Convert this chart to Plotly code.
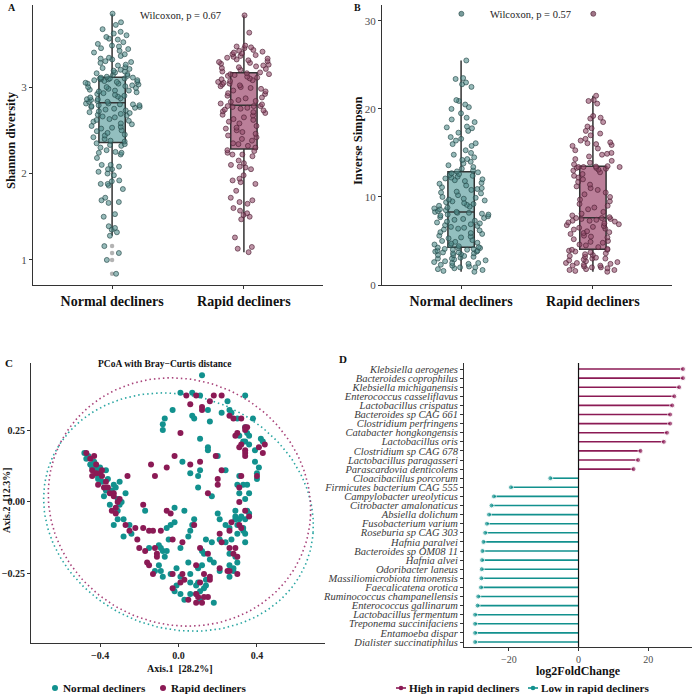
import numpy as np
import plotly.graph_objects as go

FONT = "Liberation Serif"
TEAL = "#12918E"
MAG = "#8B1A55"
AXC = "#333333"
TXT = "#4D4D4D"

groups = ["Normal decliners", "Rapid decliners"]

# ---------------- Panel A: Shannon diversity ----------------
shannon_normal = [
    0.84, 1.00, 1.08, 1.16, 1.28, 1.32, 1.35, 1.37, 1.39, 1.50, 1.53, 1.66, 1.67, 1.69, 1.72, 1.82, 1.86, 1.88, 1.88, 1.91,
    1.92, 1.98, 2.00, 2.02, 2.05, 2.05, 2.08, 2.10, 2.10, 2.18, 2.22, 2.24, 2.24, 2.25, 2.27, 2.30, 2.32, 2.33, 2.34, 2.35,
    2.37, 2.38, 2.40, 2.42, 2.44, 2.45, 2.47, 2.49, 2.50, 2.52, 2.53, 2.54, 2.55, 2.57, 2.58, 2.60, 2.61, 2.62, 2.63, 2.65,
    2.66, 2.67, 2.68, 2.69, 2.70, 2.71, 2.72, 2.73, 2.74, 2.75, 2.76, 2.77, 2.77, 2.78, 2.79, 2.79, 2.80, 2.80, 2.81, 2.81,
    2.83, 2.83, 2.84, 2.85, 2.86, 2.86, 2.87, 2.88, 2.89, 2.90, 2.91, 2.92, 2.93, 2.94, 2.95, 2.96, 2.96, 2.97, 2.98, 2.99,
    3.00, 3.00, 3.01, 3.02, 3.03, 3.04, 3.04, 3.05, 3.06, 3.06, 3.07, 3.08, 3.08, 3.09, 3.09, 3.10, 3.10, 3.10, 3.11, 3.11,
    3.12, 3.13, 3.14, 3.15, 3.16, 3.17, 3.18, 3.19, 3.20, 3.21, 3.22, 3.23, 3.25, 3.26, 3.28, 3.29, 3.30, 3.32, 3.33, 3.34,
    3.36, 3.38, 3.40, 3.42, 3.44, 3.45, 3.47, 3.48, 3.50, 3.52, 3.55, 3.56, 3.58, 3.60, 3.62, 3.64, 3.67, 3.72, 3.75, 3.85,
]
shannon_rapid = [
    1.09, 1.13, 1.15, 1.26, 1.47, 1.50, 1.52, 1.54, 1.57, 1.60, 1.65, 1.67, 1.69, 1.72, 1.80, 1.88, 1.90, 1.92, 1.94, 1.98,
    2.05, 2.07, 2.08, 2.10, 2.12, 2.15, 2.20, 2.22, 2.22, 2.24, 2.26, 2.27,
    2.30, 2.32, 2.34, 2.35, 2.38, 2.40, 2.42, 2.44, 2.46, 2.48, 2.50, 2.52, 2.53, 2.55, 2.58, 2.60, 2.62, 2.63, 2.65, 2.67,
    2.68, 2.70, 2.71, 2.72, 2.73, 2.74, 2.75, 2.76, 2.77, 2.78, 2.78, 2.78,
    2.80, 2.81, 2.83, 2.84, 2.85, 2.87, 2.88, 2.90, 2.92, 2.93, 2.95, 2.96, 2.98, 2.99, 3.00, 3.01, 3.02, 3.03, 3.04, 3.05,
    3.06, 3.07, 3.08, 3.09, 3.10, 3.11, 3.12, 3.13, 3.14, 3.15, 3.15, 3.16,
    3.17, 3.18, 3.20, 3.21, 3.22, 3.23, 3.24, 3.25, 3.26, 3.27, 3.28, 3.29, 3.30, 3.31, 3.32, 3.33, 3.34, 3.35, 3.36, 3.37,
    3.38, 3.39, 3.40, 3.41, 3.42, 3.43, 3.45, 3.46, 3.47, 3.48, 3.63, 3.83,
]
p_shannon = "Wilcoxon, p = 0.67"

# ---------------- Panel B: Inverse Simpson ----------------
invsimpson_normal = [
    1.5, 1.6, 1.7, 1.8, 1.9, 2.0, 2.0, 2.1, 2.2, 2.3, 2.4, 2.5, 2.5, 2.6, 2.7, 2.8, 2.9, 3.0, 3.0, 3.1,
    3.2, 3.3, 3.4, 3.4, 3.5, 3.6, 3.6, 3.7, 3.7, 3.8, 3.8, 3.9, 3.9, 4.0, 4.0, 4.1, 4.1, 4.2, 4.2, 4.25,
    4.3, 4.4, 4.5, 4.6, 4.7, 4.8, 4.9, 5.0, 5.1, 5.3, 5.4, 5.5, 5.6, 5.8, 5.9, 6.0, 6.2, 6.3, 6.4, 6.5,
    6.6, 6.7, 6.8, 6.9, 7.0, 7.1, 7.2, 7.3, 7.4, 7.5, 7.6, 7.7, 7.8, 7.9, 8.0, 8.0, 8.1, 8.2, 8.2, 8.3,
    8.3, 8.4, 8.5, 8.6, 8.7, 8.8, 8.9, 9.0, 9.1, 9.2, 9.3, 9.4, 9.5, 9.6, 9.7, 9.8, 9.9, 10.0, 10.2, 10.4,
    10.5, 10.6, 10.8, 10.9, 11.0, 11.1, 11.3, 11.5, 11.6, 11.8, 11.9, 12.0, 12.1, 12.2, 12.3, 12.4, 12.5, 12.6, 12.7, 12.8,
    12.9, 13.0, 13.2, 13.4, 13.6, 13.8, 14.0, 14.2, 14.3, 14.5, 15.0, 15.3, 15.8, 16.0, 16.1, 16.4, 16.6, 17.3, 17.5, 17.8,
    17.9, 18.0, 18.5, 18.8, 19.0, 20.0, 20.2, 20.9, 21.0, 22.5, 22.8, 23.0, 23.4, 23.5, 20.5, 19.5, 16.8, 14.8, 25.5, 30.8,
]
invsimpson_rapid = [
    1.5, 1.6, 1.7, 1.7, 1.8, 1.9, 2.0, 2.0, 2.1, 2.2, 2.2, 2.3, 2.4, 2.5, 2.5, 2.6, 2.7, 2.8, 2.9, 3.0,
    3.0, 3.1, 3.2, 3.3, 3.4, 3.5, 3.6, 3.7, 3.8, 3.9, 4.0, 4.0,
    4.1, 4.3, 4.5, 4.6, 4.8, 4.9, 5.0, 5.2, 5.4, 5.5, 5.6, 5.8, 5.9, 6.0, 6.1, 6.3, 6.4, 6.5, 6.6, 6.7,
    6.8, 6.9, 7.0, 7.1, 7.2, 7.3, 7.3, 7.4, 7.5, 7.5, 7.6, 7.6,
    7.7, 7.9, 8.1, 8.3, 8.6, 8.8, 9.0, 9.2, 9.5, 9.7, 10.0, 10.3, 10.5, 10.8, 11.0, 11.2, 11.4, 11.7, 12.0, 12.2,
    12.4, 12.6, 12.8, 13.0, 13.1, 13.2, 13.3, 13.3, 13.4, 13.4, 13.4, 13.45,
    13.5, 13.7, 13.9, 14.1, 14.3, 14.6, 14.8, 15.0, 15.3, 15.5, 15.8, 16.0, 16.2, 16.4, 16.6, 17.0, 17.5, 17.8, 18.0, 18.5,
    18.9, 19.0, 19.2, 20.6, 20.9, 21.0, 21.5, 14.9, 15.9, 16.1, 17.2, 30.8,
]
p_invsimpson = "Wilcoxon, p = 0.57"

# ---------------- Panel C: PCoA (Axis.1, Axis.2) ----------------
pcoa_normal = [
    (0.12, 0.44), (0.01, 0.38), (0.07, 0.38), (0.11, 0.37), (0.25, 0.35), (0.34, 0.37), (0.15, 0.32), (0.07, 0.30),
    (0.08, 0.29), (-0.03, 0.32), (-0.07, 0.29), (-0.08, 0.27), (-0.08, 0.25), (0.16, 0.28), (0.22, 0.31), (0.26, 0.32),
    (0.27, 0.31), (0.30, 0.29), (0.38, 0.29), (0.34, 0.26), (0.31, 0.23), (0.35, 0.24), (0.36, 0.23), (0.33, 0.21),
    (0.34, 0.21), (0.36, 0.20), (0.42, 0.22), (0.43, 0.21), (0.39, 0.18), (0.39, 0.14), (0.41, 0.12), (0.40, 0.10),
    (0.40, 0.08), (0.11, 0.22), (0.15, 0.19), (0.15, 0.18), (0.02, 0.14), (0.06, 0.10), (0.20, 0.16), (0.24, 0.11),
    (0.31, 0.09), (0.30, 0.06), (0.33, 0.06), (0.35, 0.06), (0.36, 0.03), (0.31, 0.03), (0.34, 0.01), (0.35, -0.03),
    (0.36, -0.04), (0.34, -0.06), (0.32, -0.05), (0.31, -0.06), (0.30, -0.08), (0.33, -0.10), (0.34, -0.11), (0.34, -0.14),
    (0.10, 0.05), (0.17, 0.02), (0.11, 0.11), (0.10, 0.09),
    (-0.48, 0.17), (-0.47, 0.15), (-0.46, 0.16), (-0.45, 0.13), (-0.44, 0.12), (-0.42, 0.12), (-0.41, 0.11), (-0.41, 0.09),
    (-0.41, 0.08), (-0.37, 0.11), (-0.39, 0.07), (-0.37, 0.04), (-0.38, 0.02), (-0.33, 0.06), (-0.32, 0.05), (-0.31, 0.01),
    (-0.30, -0.01), (-0.35, -0.01), (-0.31, -0.03), (-0.29, 0.00), (-0.27, 0.03), (-0.30, 0.07), (-0.33, -0.08), (-0.31, -0.06),
    (-0.28, -0.06), (-0.25, -0.08), (-0.28, -0.12), (-0.24, -0.11), (-0.17, -0.03), (-0.06, -0.09), (-0.04, -0.08), (-0.02, -0.07),
    (-0.02, -0.02), (0.03, -0.03), (0.01, -0.16), (-0.05, -0.13), (-0.10, -0.15), (-0.15, -0.16), (-0.09, -0.16), (-0.08, -0.17),
    (-0.07, -0.19), (-0.06, -0.17), (-0.12, -0.24), (-0.10, -0.22), (-0.09, -0.24), (-0.08, -0.26), (-0.04, -0.25), (-0.01, -0.23),
    (0.01, -0.26), (0.05, -0.21), (0.06, -0.25), (0.10, -0.23), (0.12, -0.22), (0.16, -0.20), (0.18, -0.21), (0.13, -0.18),
    (0.05, -0.12), (0.06, -0.10), (0.07, -0.08), (0.08, -0.06),
    (-0.01, -0.29), (-0.02, -0.31), (0.01, -0.32), (0.06, -0.28), (0.09, -0.29), (0.10, -0.28), (0.09, -0.32), (0.06, -0.32),
    (0.03, -0.34), (0.11, -0.34), (0.14, -0.29), (0.18, -0.35), (0.14, -0.27), (0.13, -0.30), (0.11, -0.31),
    (0.21, -0.06), (0.24, -0.14), (0.27, -0.13), (0.26, -0.18), (0.29, -0.19), (0.30, -0.21), (0.28, -0.23), (0.26, -0.22),
    (0.21, -0.24), (0.26, -0.26), (0.28, -0.24), (0.30, -0.11), (0.24, -0.08), (0.26, -0.09), (0.29, -0.06), (0.33, -0.09),
    (0.29, -0.05), (0.29, -0.03), (0.20, -0.04), (0.17, -0.14), (0.21, -0.13), (0.14, -0.13), (0.12, -0.17),
    (-0.43, 0.14), (-0.40, 0.12), (-0.36, 0.08), (-0.34, 0.04),
]
pcoa_rapid = [
    (0.04, 0.37), (0.09, 0.37), (0.18, 0.37), (0.22, 0.37), (0.06, 0.34), (0.12, 0.33), (0.16, 0.35), (0.12, 0.32),
    (0.01, 0.24), (0.26, 0.30), (0.28, 0.29), (0.32, 0.29), (0.34, 0.26), (0.35, 0.26), (0.30, 0.24), (0.29, 0.23),
    (0.34, 0.25), (0.32, 0.20), (0.31, 0.19), (0.44, 0.20), (0.43, 0.17), (0.41, 0.19), (0.34, 0.18), (0.34, 0.17),
    (0.34, 0.16), (0.40, 0.09), (0.11, 0.14), (0.06, 0.13), (-0.02, 0.16), (-0.06, 0.12), (-0.12, 0.09), (-0.14, 0.13),
    (0.19, 0.16), (0.22, 0.11), (0.32, 0.09), (0.31, 0.05), (0.31, 0.00), (0.34, -0.03), (0.36, -0.05), (0.31, -0.08),
    (0.32, -0.09), (0.15, 0.03), (0.20, 0.06), (0.20, 0.08),
    (-0.47, 0.17), (-0.43, 0.16), (-0.44, 0.11), (-0.42, 0.10), (-0.40, 0.10), (-0.39, 0.09), (-0.41, 0.06), (-0.38, 0.05),
    (-0.35, 0.03), (-0.33, 0.03), (-0.33, 0.02), (-0.30, 0.01), (-0.32, -0.02), (-0.34, -0.03), (-0.32, -0.04), (-0.26, 0.09),
    (-0.27, -0.08), (-0.22, -0.09), (-0.25, -0.10), (-0.18, -0.09), (-0.21, -0.13), (-0.18, -0.01), (-0.15, -0.10), (-0.13, -0.10),
    (-0.09, -0.10), (-0.04, -0.04), (-0.06, -0.03), (-0.03, -0.13), (0.02, -0.14), (-0.20, -0.16), (-0.17, -0.17), (-0.12, -0.16),
    (-0.11, -0.18), (-0.11, -0.19), (-0.16, -0.21), (-0.15, -0.22), (-0.13, -0.25), (-0.03, -0.25), (0.02, -0.25), (0.09, -0.22),
    (0.13, -0.25), (0.15, -0.18), (0.08, -0.08),
    (-0.03, -0.30), (0.01, -0.28), (0.03, -0.27), (0.11, -0.28), (0.09, -0.32), (0.05, -0.34), (0.09, -0.35), (0.12, -0.35),
    (0.10, -0.33), (0.15, -0.33), (0.16, -0.27), (0.13, -0.33), (0.16, -0.26),
    (0.21, -0.11), (0.22, -0.14), (0.26, -0.16), (0.28, -0.18), (0.30, -0.19), (0.30, -0.25), (0.25, -0.24), (0.21, -0.23),
    (0.26, -0.24), (0.29, -0.16), (0.26, -0.10), (0.27, -0.07), (0.11, -0.16),
    (-0.45, 0.15), (-0.42, 0.13), (-0.39, 0.11), (-0.37, 0.07), (-0.36, 0.05), (-0.44, 0.09), (-0.31, 0.00),
]
# 95% ellipse summaries: centre x, centre y, semi-axis x, semi-axis y, rotation (deg)
ellipse_normal = [0.0, -0.035, 0.69, 0.41, -6]
ellipse_rapid = [0.005, 0.0, 0.67, 0.43, -4]

# ---------------- Panel D: log2FoldChange ----------------
species = [
    "Klebsiella aerogenes", "Bacteroides coprophilus", "Klebsiella michiganensis", "Enterococcus casseliflavus",
    "Lactobacillus crispatus", "Bacteroides sp CAG 661", "Clostridium perfringens", "Catabacter hongkongensis",
    "Lactobacillus oris", "Clostridium sp CAG 678", "Lactobacillus paragasseri", "Parascardovia denticolens",
    "Cloacibacillus porcorum", "Firmicutes bacterium CAG 555", "Campylobacter ureolyticus", "Citrobacter amalonaticus",
    "Absiella dolichum", "Fusobacterium varium", "Roseburia sp CAG 303", "Hafnia paralvei", "Bacteroides sp OM08 11",
    "Hafnia alvei", "Odoribacter laneus", "Massiliomicrobiota timonensis", "Faecalicatena orotica",
    "Ruminococcus champanellensis", "Enterococcus gallinarum", "Lactobacillus fermentum", "Treponema succinifaciens",
    "Entamoeba dispar", "Dialister succinatiphilus",
]
log2fc = [
    30.0, 30.0, 28.9, 27.5, 26.9, 26.3, 26.3, 25.4, 24.5, 17.8, 17.1, 15.8,
    -8.1, -19.4, -24.3, -25.0, -25.7, -26.3, -26.8, -27.3, -27.6, -27.7, -27.8, -27.9, -28.0,
    -28.8, -29.0, -29.7, -29.7, -29.7, -29.7,
]
legend_d = ["High in rapid decliners", "Low in rapid decliners"]

fig = go.Figure()

# ---- boxplots A and B ----
box_styles = {
    "Normal decliners": dict(fill="rgba(120,175,175,0.8)", pt="rgba(80,140,138,0.6)", ptl="rgba(35,70,70,0.8)"),
    "Rapid decliners": dict(fill="rgba(170,95,128,0.8)", pt="rgba(145,75,105,0.6)", ptl="rgba(75,30,50,0.8)"),
}

def add_box(values, grp, xa, ya):
    st = box_styles[grp]
    # box with 1.5*IQR whiskers; outliers drawn grey at the centre (as ggplot does)
    fig.add_trace(go.Box(x=[grp] * len(values), y=values, xaxis=xa, yaxis=ya, boxpoints="outliers",
                         jitter=0, pointpos=0, width=0.2, fillcolor=st["fill"],
                         line=dict(color=AXC, width=1.5),
                         marker=dict(size=4.5, color="rgba(160,160,160,0.8)", line=dict(width=0)),
                         whiskerwidth=0, showlegend=False, hoverinfo="skip"))
    # jittered sample points on top
    fig.add_trace(go.Box(x=[grp] * len(values), y=values, xaxis=xa, yaxis=ya, boxpoints="all",
                         jitter=1, pointpos=0, width=0.42, fillcolor="rgba(0,0,0,0)",
                         line=dict(color="rgba(0,0,0,0)", width=0),
                         marker=dict(size=5, color=st["pt"], line=dict(color=st["ptl"], width=0.8)),
                         showlegend=False, hoverinfo="skip"))

add_box(shannon_normal, groups[0], "x", "y")
add_box(shannon_rapid, groups[1], "x", "y")
add_box(invsimpson_normal, groups[0], "x2", "y2")
add_box(invsimpson_rapid, groups[1], "x2", "y2")

# ---- PCoA C ----
def ellipse(params):
    cx, cy, a, b, ang = params
    t = np.linspace(0, 2 * np.pi, 200)
    th = np.deg2rad(ang)
    x = cx + a * np.cos(t) * np.cos(th) - b * np.sin(t) * np.sin(th)
    y = cy + a * np.cos(t) * np.sin(th) + b * np.sin(t) * np.cos(th)
    return x, y

for params, col in [(ellipse_normal, "#2AA6A2"), (ellipse_rapid, "#A8437A")]:
    ex, ey = ellipse(params)
    fig.add_trace(go.Scatter(x=ex, y=ey, mode="lines", xaxis="x3", yaxis="y3",
                             line=dict(color=col, width=1.6, dash="1.5px,3px"),
                             showlegend=False, hoverinfo="skip"))

for pts, col, name in [(pcoa_normal, TEAL, groups[0]), (pcoa_rapid, MAG, groups[1])]:
    fig.add_trace(go.Scatter(x=[p[0] for p in pts], y=[p[1] for p in pts], mode="markers",
                             xaxis="x3", yaxis="y3", name=name, showlegend=False,
                             marker=dict(size=6, color=col), hoverinfo="skip"))

# ---- Lollipop D ----
n_sp = len(species)
ypos = [n_sp - 1 - i for i in range(n_sp)]
for sign, col, name in [(1, MAG, legend_d[0]), (-1, TEAL, legend_d[1])]:
    xs, ys, sz = [], [], []
    for v, yy in zip(log2fc, ypos):
        if (v > 0) == (sign > 0):
            xs += [0, v, None]
            ys += [yy, yy, None]
            sz += [0, 5, 0]
    fig.add_trace(go.Scatter(x=xs, y=ys, mode="lines+markers", xaxis="x4", yaxis="y4",
                             name=name, showlegend=False,
                             line=dict(color=col, width=1.6),
                             marker=dict(size=sz, color=col), hoverinfo="skip"))

def dom_x(a, b):
    return [a / 694, b / 694]

def dom_y(top, bottom):
    return [1 - bottom / 697, 1 - top / 697]

ax_common = dict(showline=True, linecolor=AXC, linewidth=1, ticks="outside", ticklen=3,
                 tickcolor=AXC, showgrid=False, zeroline=False)

fig.update_layout(
    width=694, height=697, margin=dict(l=0, r=0, t=0, b=0, autoexpand=False),
    paper_bgcolor="white", plot_bgcolor="white", boxmode="overlay", showlegend=False,
    font=dict(family=FONT, color=AXC),
    xaxis=dict(domain=dom_x(33, 323), range=[-0.6, 1.6], type="category", anchor="y",
               tickfont=dict(family=FONT, size=14, color="#111", weight="bold"), **ax_common),
    yaxis=dict(domain=dom_y(5, 285), range=[0.71, 3.95], anchor="x", tickvals=[1, 2, 3],
               tickfont=dict(family=FONT, size=11, color=TXT), **ax_common),
    xaxis2=dict(domain=dom_x(382, 672), range=[-0.6, 1.6], type="category", anchor="y2",
                tickfont=dict(family=FONT, size=14, color="#111", weight="bold"), **ax_common),
    yaxis2=dict(domain=dom_y(5, 285), range=[0, 31.8], anchor="x2", tickvals=[0, 10, 20, 30],
                tickfont=dict(family=FONT, size=11, color=TXT), **ax_common),
    xaxis3=dict(domain=dom_x(31, 325), range=[-0.752, 0.747], anchor="y3", tickvals=[-0.4, 0, 0.4],
                ticktext=["−0.4", "0.0", "0.4"],
                tickfont=dict(family=FONT, size=10, color="#222", weight="bold"), **ax_common),
    yaxis3=dict(domain=dom_y(363, 643), range=[-0.49, 0.483], anchor="x3", tickvals=[-0.25, 0, 0.25],
                ticktext=["−0.25", "0.00", "0.25"],
                tickfont=dict(family=FONT, size=10, color="#222", weight="bold"), **ax_common),
    xaxis4=dict(domain=dom_x(464, 692), range=[-32.9, 32.6], anchor="y4", tickvals=[-20, 0, 20],
                ticktext=["−20", "0", "20"],
                tickfont=dict(family=FONT, size=10, color=TXT), **ax_common),
    yaxis4=dict(domain=dom_y(363, 647), range=[-0.55, n_sp - 1 + 0.66], anchor="x4",
                tickvals=ypos, ticktext=["<i>%s</i>" % s for s in species],
                tickfont=dict(family=FONT, size=10.5, color="#3A3A3A"), **ax_common),
)

fig.add_shape(type="line", xref="x4", yref="y4 domain", x0=0, x1=0, y0=0, y1=1,
              line=dict(color="#111", width=1.2))

def ann(text, x, y, size, bold=True, angle=0, color="#111", xanchor="center"):
    fig.add_annotation(text=text, x=x / 694, y=1 - y / 697, xref="paper", yref="paper",
                       showarrow=False, textangle=angle, xanchor=xanchor, yanchor="middle",
                       font=dict(family=FONT, size=size, color=color, weight="bold" if bold else "normal"))

ann("A", 6, 8, 10, xanchor="left")
ann("B", 352, 8, 10, xanchor="left")
ann("C", 3, 363, 11, xanchor="left")
ann("D", 337, 359, 11, xanchor="left")
ann("Shannon diversity", 11, 140, 12.5, angle=-90)
ann("Inverse Simpson", 358, 140, 12.5, angle=-90)
ann(p_shannon, 180, 16, 10.5, bold=False, color="#222")
ann(p_invsimpson, 530, 15, 10.5, bold=False, color="#222")
ann("PCoA with Bray−Curtis distance", 164, 364, 9.5)
ann("Axis.2&nbsp;&nbsp;[12.3%]", 6, 500, 10, angle=-90)
ann("Axis.1&nbsp;&nbsp;[28.2%]", 180, 668, 10)
ann("log2FoldChange", 578, 671, 12)

# ---- legend keys (drawn in page coordinates, below the panels) ----
def px(x):
    return x / 694

def py(y):
    return 1 - y / 697

leg_y = 688
# C legend: dot keys
for xk, col, label in [(55, TEAL, groups[0]), (163, MAG, groups[1])]:
    fig.add_shape(type="circle", xref="paper", yref="paper", x0=px(xk - 3), x1=px(xk + 3),
                  y0=py(leg_y + 3), y1=py(leg_y - 3), fillcolor=col, line=dict(width=0))
    ann(label, xk + 6, leg_y, 11.2, xanchor="left")
# D legend: short line + dot keys
for xk, col, label in [(401, MAG, legend_d[0]), (533, TEAL, legend_d[1])]:
    fig.add_shape(type="line", xref="paper", yref="paper", x0=px(xk - 5), x1=px(xk + 5),
                  y0=py(leg_y), y1=py(leg_y), line=dict(color=col, width=1.6))
    fig.add_shape(type="circle", xref="paper", yref="paper", x0=px(xk - 2.3), x1=px(xk + 2.3),
                  y0=py(leg_y + 2.3), y1=py(leg_y - 2.3), fillcolor=col, line=dict(width=0))
    ann(label, xk + 6, leg_y, 11.2, xanchor="left")

fig.write_html("out.html")
